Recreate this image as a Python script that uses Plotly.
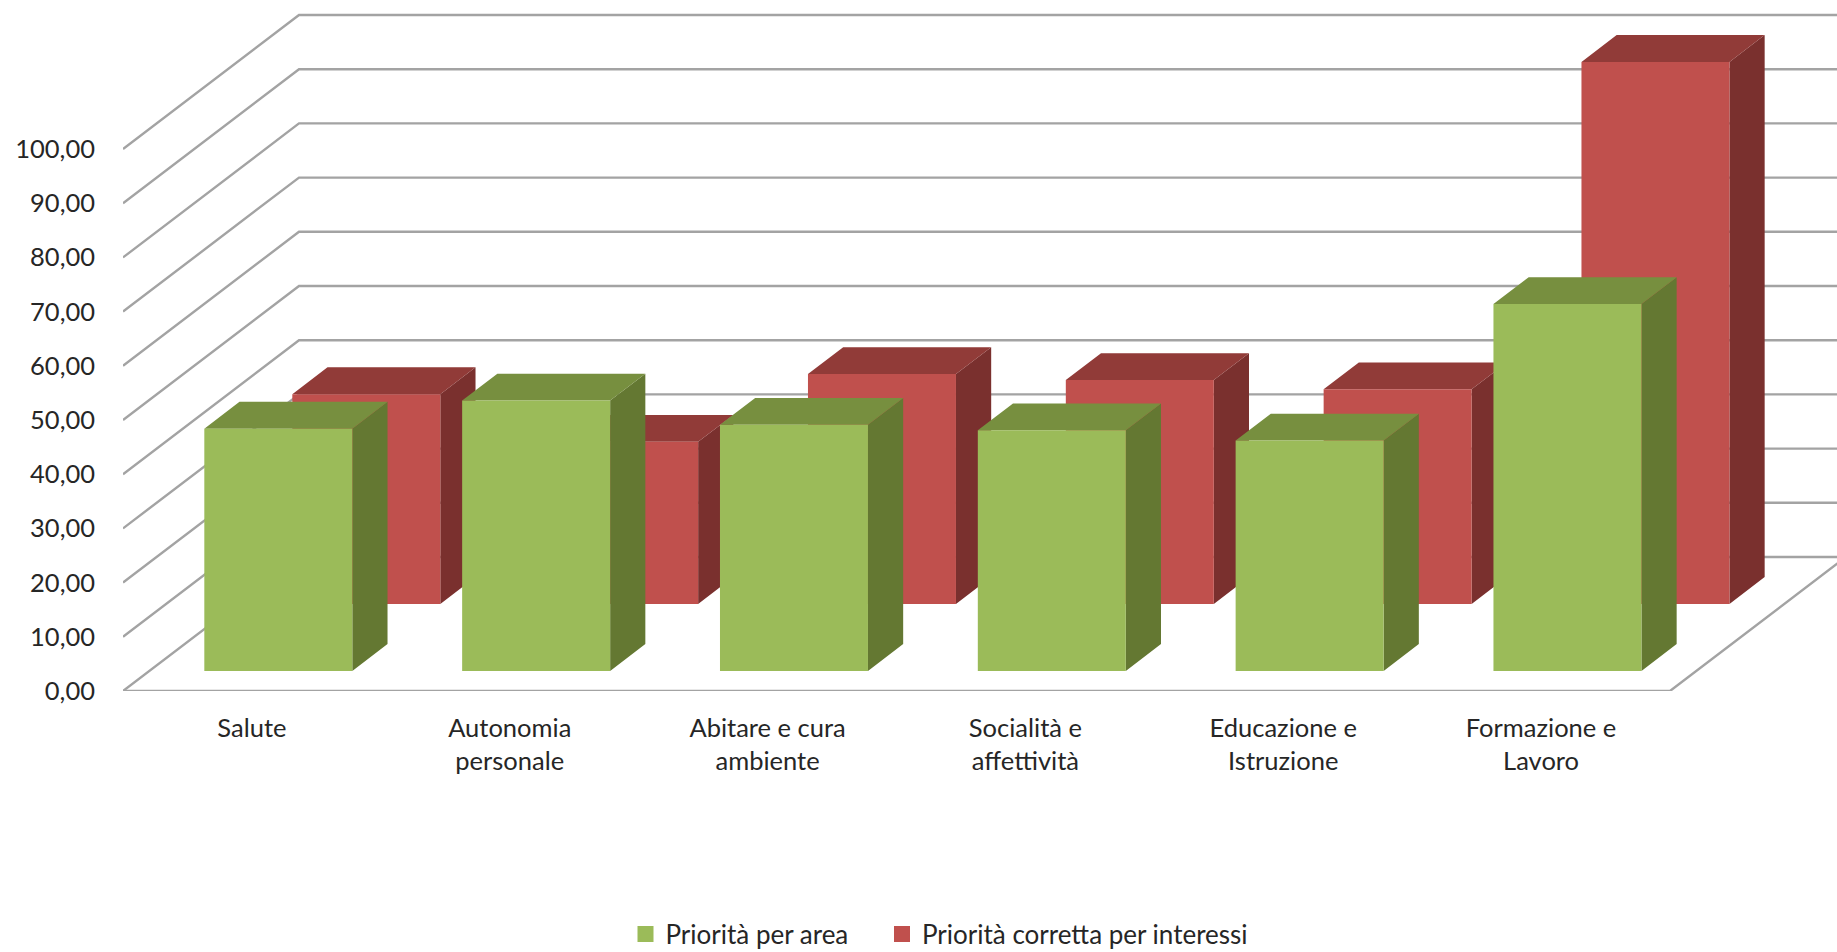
import plotly.graph_objects as go

# Data
categories = ["Salute", "Autonomia<br>personale", "Abitare e cura<br>ambiente",
              "Socialità e<br>affettività", "Educazione e<br>Istruzione", "Formazione e<br>Lavoro"]
priorita_area = [44.7, 49.9, 45.4, 44.4, 42.5, 67.7]
priorita_corretta = [38.7, 29.9, 42.4, 41.3, 39.6, 100.0]
value_ticks = [0, 10, 20, 30, 40, 50, 60, 70, 80, 90, 100]
value_labels = ["0,00", "10,00", "20,00", "30,00", "40,00", "50,00",
                "60,00", "70,00", "80,00", "90,00", "100,00"]
series_names = ["Priorità per area", "Priorità corretta per interessi"]

# Oblique projection settings (depth 0..1 shifts a point right and up)
W, H = 1837, 952
AX_LEFT, AX_BOTTOM = 123, 691
PX_PER_CAT, PX_PER_VAL = 257.83, 5.42
DEPTH_X = 176 / PX_PER_CAT
DEPTH_Y = 134 / PX_PER_VAL
BAR_W = 148 / PX_PER_CAT
GRID = "#A3A3A3"
TEXT = "#262626"


def proj(cat, val, depth):
    return cat + depth * DEPTH_X, val + depth * DEPTH_Y


def faces(values, d0, d1):
    front, side, top = ([], []), ([], []), ([], [])
    for i, v in enumerate(values):
        a = i + (1 - BAR_W) / 2
        b = a + BAR_W
        polys = [
            (front, [(a, 0, d0), (b, 0, d0), (b, v, d0), (a, v, d0)]),
            (side, [(b, 0, d0), (b, 0, d1), (b, v, d1), (b, v, d0)]),
            (top, [(a, v, d0), (b, v, d0), (b, v, d1), (a, v, d1)]),
        ]
        for target, pts in polys:
            for c, val, d in pts + [pts[0]]:
                x, y = proj(c, val, d)
                target[0].append(x)
                target[1].append(y)
            target[0].append(None)
            target[1].append(None)
    return front, side, top


fig = go.Figure()

# Walls and floor
gx, gy = [], []
n = len(categories)
for v in value_ticks:
    for c, val, d in [(0, v, 0), (0, v, 1), (n, v, 1), (None, None, None)]:
        if c is None:
            gx.append(None)
            gy.append(None)
        else:
            x, y = proj(c, val, d)
            gx.append(x)
            gy.append(y)
for c, val, d in [(0, 0, 0), (n, 0, 0), (n, 0, 1)]:
    x, y = proj(c, val, d)
    gx.append(x)
    gy.append(y)
fig.add_trace(go.Scatter(x=gx, y=gy, mode="lines", line=dict(color=GRID, width=2.4),
                         showlegend=False, hoverinfo="skip"))

# Bars: the back row first, then the front row
rows = [
    (priorita_corretta, 0.65, 0.85, "#C0504D", "#7A302E", "#913B38"),
    (priorita_area, 0.15, 0.35, "#9BBB59", "#647832", "#778F3F"),
]
for values, d0, d1, c_front, c_side, c_top in rows:
    front, side, top = faces(values, d0, d1)
    for poly, col in [(side, c_side), (top, c_top), (front, c_front)]:
        fig.add_trace(go.Scatter(x=poly[0], y=poly[1], mode="none", fill="toself",
                                 fillcolor=col, showlegend=False, hoverinfo="skip"))

# Legend entries, one legend box each so that their spacing can follow the reference
for name, col, leg in zip(series_names, ["#9BBB59", "#C0504D"], ["legend", "legend2"]):
    fig.add_trace(go.Scatter(x=[None], y=[None], mode="markers", name=name, legend=leg,
                             marker=dict(symbol="square", size=16, color=col)))

font = dict(family="Lato, Carlito, sans-serif", size=25.5, color=TEXT)
legend_font = dict(family="Lato, Carlito, sans-serif", size=26, color=TEXT)
legend_common = dict(y=1 - 934 / H, yanchor="middle", xanchor="left", itemwidth=30,
                     font=legend_font, bgcolor="rgba(0,0,0,0)")
fig.update_layout(
    width=W, height=H,
    margin=dict(l=0, r=0, t=0, b=0, autoexpand=False),
    paper_bgcolor="white", plot_bgcolor="white",
    font=font,
    showlegend=True,
    legend=dict(x=625.5 / W, **legend_common),
    legend2=dict(x=882 / W, **legend_common),
    xaxis=dict(domain=[AX_LEFT / W, 1], range=[0, (W - AX_LEFT) / PX_PER_CAT],
               tickmode="array", tickvals=[i + 0.5 for i in range(n)], ticktext=categories,
               tickangle=0, showgrid=False, zeroline=False, showline=False, ticks="",
               ticklabelstandoff=19, tickfont=font, automargin=False, fixedrange=True),
    yaxis=dict(domain=[(H - AX_BOTTOM) / H, 1], range=[0, AX_BOTTOM / PX_PER_VAL],
               tickmode="array", tickvals=value_ticks, ticktext=value_labels,
               showgrid=False, zeroline=False, showline=False, ticks="",
               ticklabelstandoff=27, tickfont=font, automargin=False, fixedrange=True),
)

fig.write_html("out.html", post_script="document.body.style.margin='0';",
               config={"displayModeBar": False})
